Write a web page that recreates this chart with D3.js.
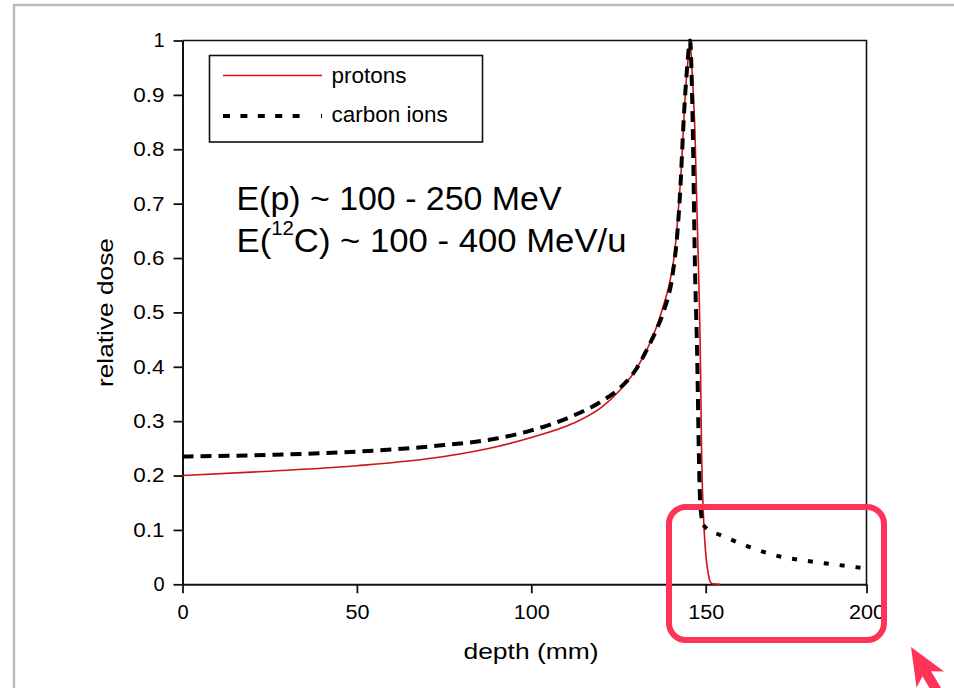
<!DOCTYPE html>
<html>
<head>
<meta charset="utf-8">
<script src="https://cdn.jsdelivr.net/npm/d3@7"></script>
<style>
  body { margin: 0; background: #ffffff; }
  svg { display: block; font-family: "Liberation Sans", Arial, Helvetica, sans-serif; }
</style>
</head>
<body>
<svg id="chart" width="954" height="688"></svg>
<script>
// Depth-dose profiles (Bragg curves), depth in mm, dose relative to the peak
const protonDepth = [0, 25, 50, 75, 90, 100, 112, 120, 125.4, 130, 133.1, 136, 137.8, 139.5, 140.7, 141.5, 142.1, 143.1, 144.1, 145, 145.5, 146.2, 146.9, 147.9, 148.5, 148.8, 149.0, 149.4, 150.1, 150.8, 151.3, 152, 154.4];
const protonDose  = [0.200, 0.208, 0.218, 0.235, 0.253, 0.270, 0.296, 0.325, 0.357, 0.395, 0.431, 0.475, 0.511, 0.550, 0.591, 0.635, 0.683, 0.775, 0.897, 0.970, 1.000, 0.930, 0.836, 0.591, 0.407, 0.250, 0.190, 0.120, 0.050, 0.020, 0.006, 0.001, 0];

const carbonDepth = [0, 25, 50, 75, 90, 100, 112, 120, 125.4, 130, 133.1, 136, 137.8, 140.7, 141.8, 142.6, 143.8, 144.8, 145.5, 146.3, 146.9, 147.6, 148.0, 148.2, 148.5, 149.3, 151, 154.4, 159.6, 164.8, 173.1, 181.4, 190.7, 200];
const carbonDose  = [0.235, 0.238, 0.244, 0.256, 0.268, 0.283, 0.310, 0.336, 0.361, 0.395, 0.431, 0.470, 0.499, 0.578, 0.640, 0.713, 0.867, 0.960, 1.000, 0.836, 0.591, 0.407, 0.253, 0.192, 0.143, 0.109, 0.099, 0.091, 0.078, 0.066, 0.051, 0.043, 0.036, 0.029];

// depth at which the carbon curve turns into its fragmentation tail
const carbonTailStart = 149.3;

const xTickValues = [0, 50, 100, 150, 200];
const yTickValues = [0, 0.1, 0.2, 0.3, 0.4, 0.5, 0.6, 0.7, 0.8, 0.9, 1];

const seriesNames = ["protons", "carbon ions"];
const xTitle = "depth (mm)";
const yTitle = "relative dose";
const energyProton = "E(p) ~ 100 - 250 MeV";
const energyCarbon = ["E(", "12", "C) ~ 100 - 400 MeV/u"];

const protonColor = "#cc1515";
const carbonColor = "#000000";
const markColor = "#fe3358";

const svg = d3.select("#chart");

// slide border
svg.append("rect")
  .attr("x", 14).attr("y", 5)
  .attr("width", 1200).attr("height", 1200)
  .attr("fill", "none")
  .attr("stroke", "#b9b9b9")
  .attr("stroke-width", 2.4);

const plotLeft = 182.5, plotRight = 866.5, plotTop = 40.5, plotBottom = 584.3;

const x = d3.scaleLinear().domain([0, 150, 200]).range([plotLeft, 705.7, plotRight]);
const y = d3.scaleLinear().domain([0, 1]).range([plotBottom, plotTop]);

// axes
const fmt = d3.format("~g");
const yAxis = svg.append("g")
  .attr("transform", `translate(${plotLeft},0)`)
  .call(d3.axisLeft(y).tickValues(yTickValues).tickFormat(fmt)
    .tickSize(9).tickSizeOuter(0).tickPadding(9));
const xAxis = svg.append("g")
  .attr("transform", `translate(0,${plotBottom})`)
  .call(d3.axisBottom(x).tickValues(xTickValues).tickFormat(fmt)
    .tickSize(9).tickSizeOuter(0).tickPadding(12));

[yAxis, xAxis].forEach(g => {
  g.select(".domain").attr("stroke", "#111").attr("stroke-width", 2);
  g.selectAll(".tick line").attr("stroke", "#111").attr("stroke-width", 1.8);
  g.selectAll(".tick text")
    .attr("fill", "#000")
    .attr("font-family", "'Liberation Sans', Arial, sans-serif")
    .attr("font-size", 20);
});
// widen multi-character tick labels
yAxis.selectAll(".tick text").each(function () {
  const t = d3.select(this);
  const n = t.text().length;
  if (n > 1) t.attr("textLength", 10.4 * n).attr("lengthAdjust", "spacingAndGlyphs");
});
xAxis.selectAll(".tick text").each(function () {
  const t = d3.select(this);
  const n = t.text().length;
  if (n > 1) t.attr("textLength", 12 * n).attr("lengthAdjust", "spacingAndGlyphs");
});

// top and right frame
svg.append("path")
  .attr("d", `M${plotLeft},${plotTop}H${plotRight}V${plotBottom}`)
  .attr("fill", "none")
  .attr("stroke", "#111")
  .attr("stroke-width", 1.6);

// curves
const line = d3.line()
  .x(d => x(d[0]))
  .y(d => y(d[1]))
  .curve(d3.curveMonotoneX);

const protons = d3.zip(protonDepth, protonDose);
const carbon = d3.zip(carbonDepth, carbonDose);

svg.append("path")
  .datum(protons)
  .attr("d", line)
  .attr("fill", "none")
  .attr("stroke", protonColor)
  .attr("stroke-width", 1.6);

svg.append("path")
  .datum(carbon.filter(d => d[0] <= carbonTailStart))
  .attr("d", line)
  .attr("fill", "none")
  .attr("stroke", carbonColor)
  .attr("stroke-width", 4)
  .attr("stroke-dasharray", "11,7");

svg.append("path")
  .datum(carbon.filter(d => d[0] >= carbonTailStart))
  .attr("d", line)
  .attr("fill", "none")
  .attr("stroke", carbonColor)
  .attr("stroke-width", 4)
  .attr("stroke-dasharray", "5,11");

// axis titles
svg.append("text")
  .attr("transform", "translate(113,312.5) rotate(-90)")
  .attr("text-anchor", "middle")
  .attr("font-size", 22)
  .attr("fill", "#000")
  .attr("textLength", 149)
  .attr("lengthAdjust", "spacingAndGlyphs")
  .text(yTitle);

svg.append("text")
  .attr("x", 531).attr("y", 659)
  .attr("text-anchor", "middle")
  .attr("font-size", 22)
  .attr("fill", "#000")
  .attr("textLength", 135)
  .attr("lengthAdjust", "spacingAndGlyphs")
  .text(xTitle);

// legend
const legend = svg.append("g");
legend.append("rect")
  .attr("x", 209.5).attr("y", 55.5)
  .attr("width", 273).attr("height", 86.5)
  .attr("fill", "#fff")
  .attr("stroke", "#111")
  .attr("stroke-width", 1.6);
legend.append("line")
  .attr("x1", 223).attr("x2", 322).attr("y1", 75.5).attr("y2", 75.5)
  .attr("stroke", "#e01010").attr("stroke-width", 1.5);
legend.append("line")
  .attr("x1", 223).attr("x2", 322).attr("y1", 116).attr("y2", 116)
  .attr("stroke", carbonColor).attr("stroke-width", 4)
  .attr("stroke-dasharray", "7,10.4,7,10.4,7,10.4,7,10.4,7,21.4,1.5,40");
legend.selectAll("text.label")
  .data(seriesNames)
  .join("text")
  .attr("class", "label")
  .attr("x", 331.5)
  .attr("y", (d, i) => i === 0 ? 82.5 : 122)
  .attr("font-size", 22.5)
  .attr("fill", "#000")
  .text(d => d);

// beam energy note
svg.append("text")
  .attr("x", 236.5).attr("y", 209.5)
  .attr("font-size", 33)
  .attr("fill", "#000")
  .attr("textLength", 325)
  .attr("lengthAdjust", "spacingAndGlyphs")
  .text(energyProton);

const note2 = svg.append("text")
  .attr("x", 236.5).attr("y", 251.5)
  .attr("font-size", 34)
  .attr("fill", "#000")
  .attr("textLength", 390)
  .attr("lengthAdjust", "spacingAndGlyphs");
note2.append("tspan").text(energyCarbon[0]);
note2.append("tspan").attr("dy", -17).attr("font-size", 20).text(energyCarbon[1]);
note2.append("tspan").attr("dy", 17).text(energyCarbon[2]);

// highlight of the fragmentation tail
svg.append("rect")
  .attr("x", 669).attr("y", 507)
  .attr("width", 215).attr("height", 133)
  .attr("rx", 17).attr("ry", 17)
  .attr("fill", "none")
  .attr("stroke", markColor)
  .attr("stroke-width", 6);

svg.append("path")
  .attr("transform", "translate(911,647) rotate(59.4)")
  .attr("d", "M0,0L38,-16L31,-5L110,-5L110,5L31,5L38,16Z")
  .attr("fill", markColor);
</script>
</body>
</html>
